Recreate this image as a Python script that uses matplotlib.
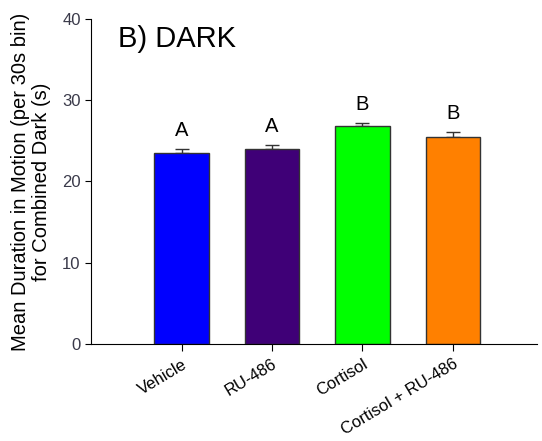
import matplotlib.pyplot as plt

plt.rcParams['font.family'] = ['Liberation Sans', 'DejaVu Sans']

groups = ["Vehicle", "RU-486", "Cortisol", "Cortisol + RU-486"]
means = [23.5, 24.0, 26.8, 25.5]
sems = [0.5, 0.55, 0.35, 0.55]
letters = ["A", "A", "B", "B"]
colors = ["#0000ff", "#3f0077", "#00ff00", "#ff8000"]

fig = plt.figure(figsize=(5.42, 4.41), dpi=100)
ax = fig.add_axes([0.168, 0.22, 0.823, 0.737])

x = range(len(groups))
ax.bar(x, means, width=0.6, color=colors, edgecolor="#333333", linewidth=1, zorder=2)
ax.errorbar(x, means, yerr=[[0] * len(sems), sems], fmt="none", ecolor="#333333",
            elinewidth=1, capsize=5, capthick=1, zorder=1)

# significance letters
for xi, m, s, lab in zip(x, means, sems, letters):
    ax.text(xi, m + s + 1.1, lab, ha="center", va="bottom", fontsize=14.5)

ax.text(0.06, 0.98, "B) DARK", transform=ax.transAxes, fontsize=21,
        ha="left", va="top")

ax.set_xlim(-1.0, 3.93)
ax.set_ylim(0, 40)
ax.set_yticks([0, 10, 20, 30, 40])
ax.set_xticks(list(x))
ax.set_xticklabels(groups, rotation=31, ha="right", rotation_mode="anchor", fontsize=12)
ax.tick_params(axis="y", labelsize=12, labelcolor="#3a3a4a", length=4)
ax.tick_params(axis="x", length=5, pad=4)

ax.spines["top"].set_visible(False)
ax.spines["right"].set_visible(False)

ax.set_ylabel("Mean Duration in Motion (per 30s bin)\nfor Combined Dark (s)", fontsize=14.5,
              labelpad=8, linespacing=1.1)

fig.savefig("out.png", dpi=100)
